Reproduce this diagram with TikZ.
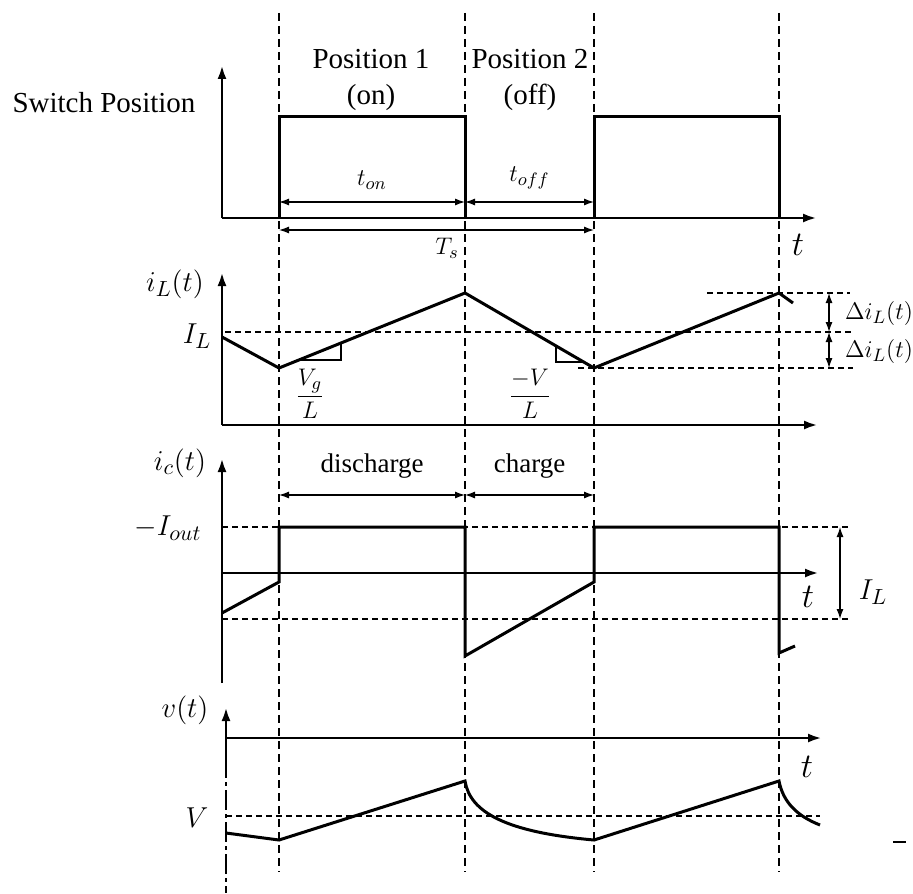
\documentclass[tikz,border=0pt]{standalone}
\usepackage{fontspec}
\setmainfont{Liberation Serif}
\usepackage{amsmath}
\usetikzlibrary{arrows.meta}

\begin{document}
\begin{tikzpicture}[x=0.5pt, y=-0.5pt,
    axis/.style = {line width=1.4pt, -{Latex[length=7pt,width=4.5pt]}},
    wave/.style = {line width=1.5pt},
    grid/.style = {line width=0.6pt, dash pattern=on 4pt off 2.5pt},
    level/.style = {line width=0.6pt, dash pattern=on 3pt off 2pt},
    dim/.style = {line width=0.6pt, {Latex[length=5pt,width=3.5pt]}-{Latex[length=5pt,width=3.5pt]}},
    txt/.style = {inner sep=0pt, font=\fontsize{14.5}{18}\selectfont},
    big/.style = {inner sep=0pt, font=\fontsize{15}{18}\selectfont},
    small/.style = {inner sep=0pt, font=\fontsize{13}{15}\selectfont}]

    \useasboundingbox (0,0) rectangle (913,893);

    % switching instants
    \foreach \x in {279, 465, 594, 779}
        \draw[grid] (\x,13) -- (\x,872);

    % switch position
    \draw[axis] (222,218) -- (222,65);
    \draw[axis] (222,218) -- (817,218);
    \draw[wave] (279,218) -- (279,117) -- (465,117) -- (465,218);
    \draw[wave] (594,218) -- (594,117) -- (779,117) -- (779,218);

    \node[txt] (swpos) at (104,103) {Switch Position};
    \node[txt, align=center] (pos1) at (371,80) {Position 1\\(on)};
    \node[txt, align=center] (pos2) at (530,80) {Position 2\\(off)};

    \coordinate (on1) at (279,202);
    \coordinate (on2) at (465,202);
    \coordinate (off2) at (594,202);
    \coordinate (Ts1) at (279,230);
    \coordinate (Ts2) at (594,230);
    \path[dim] (on1) edge node[small, above=6pt] (ton) {$t_{on}$} (on2);
    \path[dim] (on2) edge node[small, above=6pt] (toff) {$t_{off}$} (off2);
    \draw[dim] (Ts1) -- (Ts2);
    \node[small] (Ts) at (447,248) {$T_s$};
    \node[big, font=\fontsize{17}{20}\selectfont] (t1) at (798,245) {$t$};

    % inductor current
    \draw[axis] (222,425) -- (222,272);
    \draw[axis] (222,425) -- (818,425);
    \draw[level] (225,332) -- (853,332);
    \draw[level] (707,293) -- (850,293);
    \draw[level] (578,368) -- (853,368);
    \draw[wave] (222,337) -- (279,368) -- (465,293) -- (594,368) -- (779,293) -- (793,303);
    \draw[line width=0.8pt] (299,360) -- (341,360) -- (341,343);
    \draw[line width=0.8pt] (556,346) -- (556,362) -- (584,362);

    \node[big] (iL) at (175,284) {$i_L(t)$};
    \node[big] (IL1) at (197,336) {$I_L$};
    \node[small] (slope1) at (310,394) {$\dfrac{V_g}{L}$};
    \node[small] (slope2) at (530,394) {$\dfrac{-V}{L}$};

    \coordinate (d1) at (829,293);
    \coordinate (d2) at (829,332);
    \coordinate (d3) at (829,368);
    \path[dim] (d1) edge (d2);
    \path[dim] (d2) edge (d3);
    \node[small] (dIL1) at (879,313) {$\Delta i_L(t)$};
    \node[small] (dIL2) at (879,351) {$\Delta i_L(t)$};

    % capacitor current
    \draw[axis] (222,683) -- (222,458);
    \draw[axis] (222,573) -- (819,573);
    \draw[level] (222,527) -- (848,527);
    \draw[level] (222,619) -- (848,619);
    \draw[wave] (222,613) -- (279,582) -- (279,527) -- (465,527) -- (465,656) -- (594,582)
        -- (594,527) -- (779,527) -- (779,653) -- (795,646);

    \coordinate (dc1) at (279,495);
    \coordinate (dc2) at (465,495);
    \coordinate (dc3) at (594,495);
    \path[dim] (dc1) edge node[txt, font=\fontsize{13.5}{16}\selectfont, above=8pt] (dis) {discharge} (dc2);
    \path[dim] (dc2) edge node[txt, font=\fontsize{13.5}{16}\selectfont, above=8pt] (chg) {charge} (dc3);
    \coordinate (iw1) at (840,527);
    \coordinate (iw2) at (840,619);
    \path[dim] (iw1) edge (iw2);

    \node[big] (ic) at (180,463) {$i_c(t)$};
    \node[big] (Iout) at (168,528) {$-I_{out}$};
    \node[big] (IL2) at (873,592) {$I_L$};
    \node[big, font=\fontsize{17}{20}\selectfont] (t2) at (808,597) {$t$};

    % output voltage
    \draw[axis] (226,758) -- (226,707);
    \draw[line width=1.4pt, dash pattern=on 10pt off 2pt on 2pt off 2pt] (226,758) -- (226,893);
    \draw[axis] (226,738) -- (822,738);
    \draw[level] (226,816) -- (820,816);
    \draw[wave] (226,833) -- (279,840) -- (465,781)
        .. controls (470,812) and (505,832) .. (594,840) -- (779,781)
        .. controls (783,802) and (797,816) .. (820,825);
    \draw[line width=0.6pt] (893,842) -- (906,842);

    \node[big] (v) at (185,710) {$v(t)$};
    \node[big] (V) at (197,818) {$V$};
    \node[big, font=\fontsize{17}{20}\selectfont] (t3) at (807,767) {$t$};
\end{tikzpicture}
\end{document}
